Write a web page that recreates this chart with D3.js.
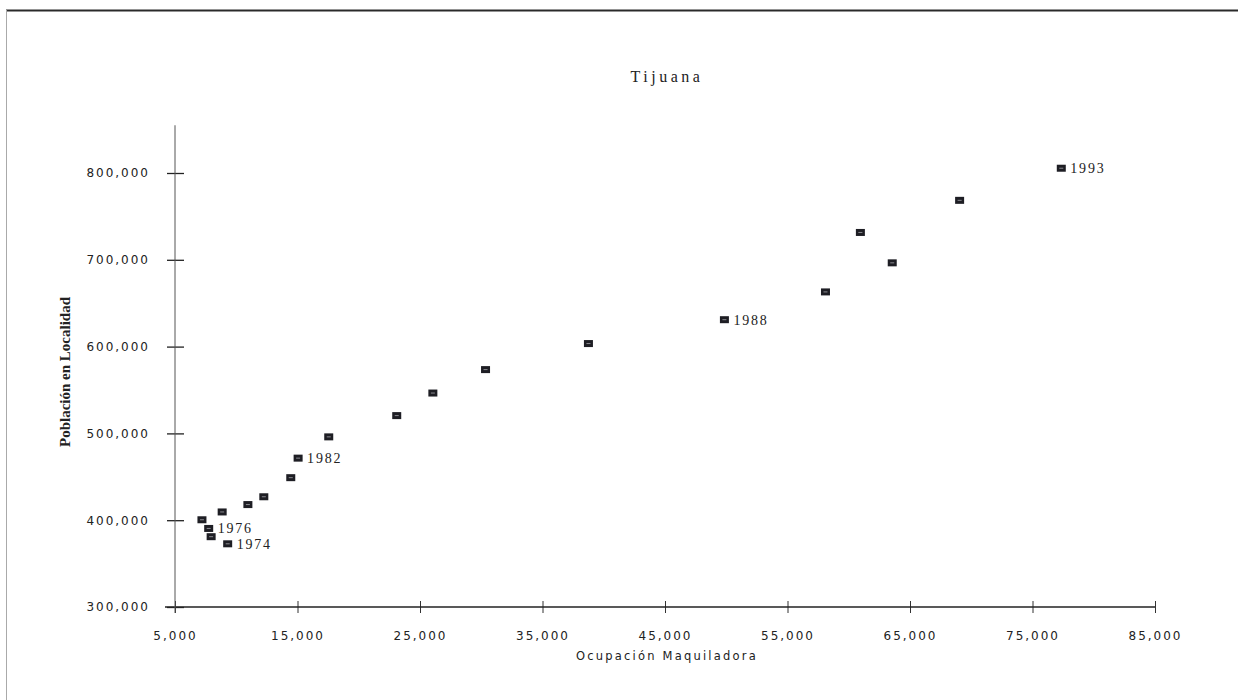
<!DOCTYPE html>
<html>
<head>
<meta charset="utf-8">
<script src="https://cdn.jsdelivr.net/npm/d3@7"></script>
<style>
  body { margin: 0; background: #fff; }
  svg { display: block; }
</style>
</head>
<body>
<div id="chart"></div>
<script>
// Data (Ocupación maquiladora vs población)
const empleo = [7200, 7750, 7950, 9300, 8850, 10950, 12250, 14450, 15050, 17550,
                23100, 26050, 30350, 38750, 49850, 58100, 60950, 63550, 69050, 77350];
const poblacion = [400500, 390500, 381000, 372800, 409500, 418000, 427000, 449000, 471500, 496000,
                   520500, 546500, 573500, 603500, 631000, 663000, 731500, 696500, 768500, 805500];
const etiquetas = ["", "1976", "", "1974", "", "", "", "", "1982", "",
                   "", "", "", "", "1988", "", "", "", "", "1993"];
const xTicks = [5000, 15000, 25000, 35000, 45000, 55000, 65000, 75000, 85000];
const yTicks = [300000, 400000, 500000, 600000, 700000, 800000];

const W = 1238, H = 700;
const margin = { top: 173, right: 83, bottom: 93, left: 175 };

const root = d3.select("#chart").append("svg")
    .attr("width", W)
    .attr("height", H);

// scan frame lines
root.append("line")
    .attr("x1", 6).attr("x2", W).attr("y1", 10.5).attr("y2", 10.5)
    .attr("stroke", "#2a2a2a").attr("stroke-width", 2);
root.append("line")
    .attr("x1", 6.5).attr("x2", 6.5).attr("y1", 10).attr("y2", H)
    .attr("stroke", "#aaa").attr("stroke-width", 1);

const svg = root.append("g")
    .attr("transform", `translate(${margin.left},${margin.top})`);

const x = d3.scaleLinear().domain([5000, 85000]).range([0, 980]);
const y = d3.scaleLinear().domain([300000, 800000]).range([434, 0]);

const fmt = d3.format(",");

// x axis
const xAxis = svg.append("g")
    .attr("transform", `translate(0,${y(300000)})`)
    .call(d3.axisBottom(x).tickValues(xTicks).tickFormat(fmt).tickSize(0).tickPadding(24));
xAxis.select(".domain").remove();
xAxis.append("line")
    .attr("x1", -10).attr("x2", x(85000))
    .attr("stroke", "#222").attr("stroke-width", 1.5);
xAxis.selectAll(".tick").append("line")
    .attr("y1", -6).attr("y2", 6)
    .attr("stroke", "#333");

// y axis
const yAxis = svg.append("g")
    .call(d3.axisLeft(y).tickValues(yTicks).tickFormat(fmt).tickSize(0).tickPadding(25));
yAxis.select(".domain").remove();
yAxis.append("line")
    .attr("y1", y(300000) + 6).attr("y2", y(855000))
    .attr("stroke", "#555").attr("stroke-width", 1);
yAxis.selectAll(".tick").append("line")
    .attr("x1", -8).attr("x2", 9)
    .attr("stroke", "#222").attr("stroke-width", 1.3);

svg.selectAll(".tick text")
    .attr("font-family", "'DejaVu Sans', sans-serif")
    .attr("font-size", 12)
    .attr("letter-spacing", 2)
    .attr("fill", "#222");

// points
const pts = empleo.map((e, i) => ({ x: e, y: poblacion[i], label: etiquetas[i] }));

svg.selectAll(".pt")
    .data(pts)
    .enter().append("rect")
    .attr("class", "pt")
    .attr("x", d => x(d.x) - 4.5)
    .attr("y", d => y(d.y) - 3.5)
    .attr("width", 9)
    .attr("height", 7)
    .attr("fill", "#1e1e24");

svg.selectAll(".pt-inner")
    .data(pts)
    .enter().append("line")
    .attr("class", "pt-inner")
    .attr("x1", d => x(d.x) - 2)
    .attr("x2", d => x(d.x) + 2)
    .attr("y1", d => y(d.y))
    .attr("y2", d => y(d.y))
    .attr("stroke", "#8a8a90")
    .attr("stroke-width", 1);

svg.selectAll(".lbl")
    .data(pts.filter(d => d.label))
    .enter().append("text")
    .attr("class", "lbl")
    .attr("x", d => x(d.x) + 9)
    .attr("y", d => y(d.y) + 5)
    .attr("font-family", "'Liberation Serif', serif")
    .attr("font-size", 14)
    .attr("letter-spacing", 1.8)
    .attr("fill", "#222")
    .text(d => d.label);

// title
root.append("text")
    .attr("x", 667).attr("y", 82)
    .attr("text-anchor", "middle")
    .attr("font-family", "'Liberation Serif', serif")
    .attr("font-size", 16)
    .attr("letter-spacing", 3.5)
    .attr("fill", "#222")
    .text("Tijuana");

// axis titles
root.append("text")
    .attr("x", 667).attr("y", 660)
    .attr("text-anchor", "middle")
    .attr("font-family", "'DejaVu Sans', sans-serif")
    .attr("font-size", 11.5)
    .attr("letter-spacing", 2.2)
    .attr("fill", "#222")
    .text("Ocupación Maquiladora");

root.append("text")
    .attr("transform", "translate(70,372) rotate(-90)")
    .attr("text-anchor", "middle")
    .attr("font-family", "'Liberation Serif', serif")
    .attr("font-size", 15)
    .attr("font-weight", "bold")
    .attr("fill", "#222")
    .text("Población en Localidad");
</script>
</body>
</html>
